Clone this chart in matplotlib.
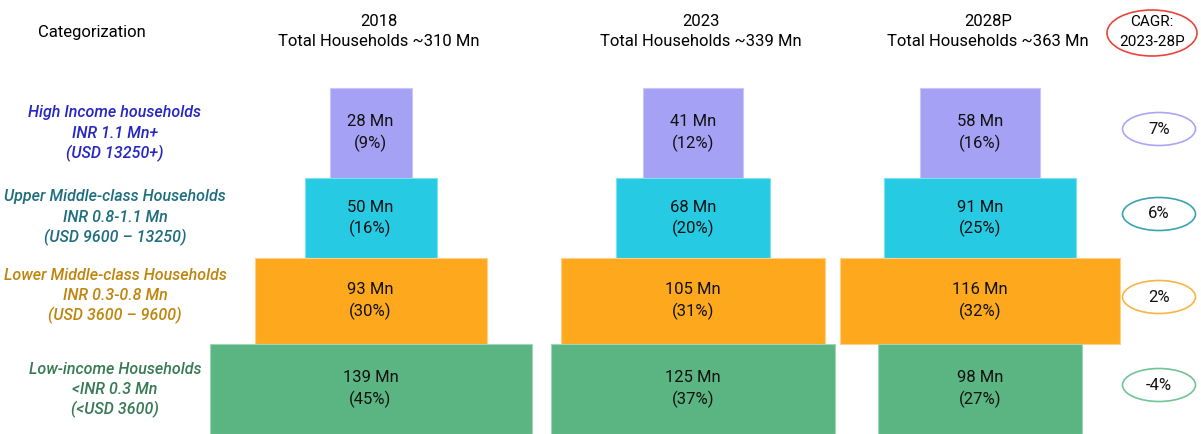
import matplotlib
matplotlib.use("Agg")
import matplotlib.pyplot as plt
from matplotlib.patches import Ellipse

# --- data -----------------------------------------------------------------
years = ["2018", "2023", "2028P"]
total_households = [310, 339, 363]          # Mn

categories = [
    "High Income households",
    "Upper Middle-class Households",
    "Lower Middle-class Households",
    "Low-income Households",
]
inr_bands = ["INR 1.1 Mn+", "INR 0.8-1.1 Mn", "INR 0.3-0.8 Mn", "<INR 0.3 Mn"]
usd_bands = ["(USD 13250+)", "(USD 9600 \u2013 13250)", "(USD 3600 \u2013 9600)", "(<USD 3600)"]

hh_2018 = [28, 50, 93, 139]
hh_2023 = [41, 68, 105, 125]
hh_2028 = [58, 91, 116, 98]
share_2018 = [9, 16, 30, 45]
share_2023 = [12, 20, 31, 37]
share_2028 = [16, 25, 32, 27]
cagr_23_28 = [7, 6, 2, -4]

# --- layout / style (pixels, figure is 1201 x 434) ------------------------
W, H = 1201, 434
col_x = [370.5, 693, 980]
bar_w = [
    [82, 132, 232, 322],
    [100, 154, 264, 284],
    [120, 192, 280, 204],
]
row_edges = [88, 178, 258, 344, 434]
fill = ["#a5a2f6", "#26cbe3", "#fea81e", "#5ab582"]
edge = ["#c8c6fa", "#7fdff0", "#ffd08a", "#9fd6b6"]
label_col = ["#2626c4", "#1f6e7e", "#bf850c", "#387a54"]
ring_col = ["#aaa6f5", "#3aa3b3", "#f7b545", "#72c396"]
label_y = [[113, 133, 153], [197, 217, 237], [275, 295, 315], [369, 389, 409]]

ROBOTO = ["Roboto", "DejaVu Sans"]

fig = plt.figure(figsize=(W / 100, H / 100), dpi=100)
ax = fig.add_axes([0, 0, 1, 1])
ax.set_xlim(0, W)
ax.set_ylim(H, 0)
ax.axis("off")

# headers
ax.text(92, 32, "Categorization", ha="center", va="center", fontsize=12, family=ROBOTO)
for yr, tot, x in zip(years, total_households, col_x):
    x_head = x + 8
    ax.text(x_head, 22, yr, ha="center", va="center", fontsize=12, family=ROBOTO)
    ax.text(x_head, 42, f"Total Households ~{tot} Mn", ha="center", va="center",
            fontsize=12, family=ROBOTO)

ax.add_patch(Ellipse((1152, 33), 90, 46, fill=False, ec="#e8453c", lw=1.2))
ax.text(1152, 22, "CAGR:", ha="center", va="center", fontsize=11, family=ROBOTO)
ax.text(1152, 42, "2023-28P", ha="center", va="center", fontsize=11, family=ROBOTO)

# category labels on the left
for i, cat in enumerate(categories):
    for txt, y in zip([cat, inr_bands[i], usd_bands[i]], label_y[i]):
        ax.text(115, y, txt, ha="center", va="center", fontsize=11.5,
                style="italic", weight="medium", color=label_col[i], family=ROBOTO)

# pyramid bars
values = [hh_2018, hh_2023, hh_2028]
shares = [share_2018, share_2023, share_2028]
for c, x in enumerate(col_x):
    for i in range(len(categories)):
        top, bot = row_edges[i], row_edges[i + 1]
        ax.bar(x, bot - top, width=bar_w[c][i], bottom=top, color=fill[i],
               edgecolor=edge[i], linewidth=0.8)
        mid = (top + bot) / 2
        ax.text(x, mid - 11, f"{values[c][i]} Mn", ha="center", va="center",
                fontsize=12, family=ROBOTO, color="#111111")
        ax.text(x, mid + 10, f"({shares[c][i]}%)", ha="center", va="center",
                fontsize=12, family=ROBOTO, color="#111111")

# CAGR bubbles
for i, g in enumerate(cagr_23_28):
    y = (row_edges[i] + row_edges[i + 1]) / 2 - 4
    ax.add_patch(Ellipse((1159, y), 73, 33, fill=False, ec=ring_col[i], lw=1.2))
    ax.text(1159, y, f"{g}%", ha="center", va="center", fontsize=12,
            family=ROBOTO, color="#111111")

fig.savefig("out.png", dpi=100)
